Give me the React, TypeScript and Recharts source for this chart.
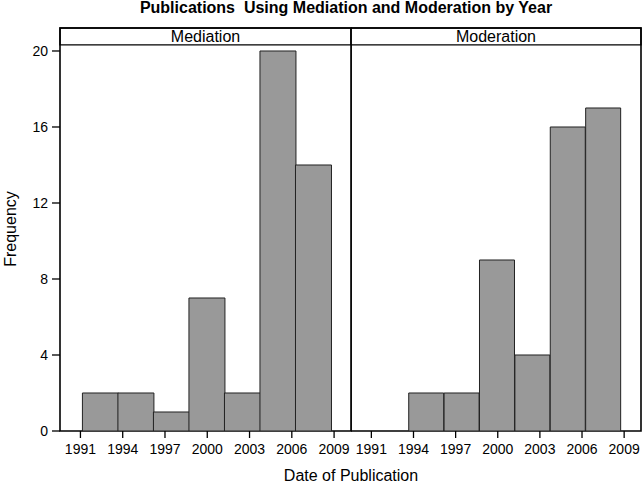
import { BarChart, Bar, XAxis, YAxis, ReferenceArea } from 'recharts';

// histogram bins (centres, in years) and counts per panel
const binCenters = [1992.4, 1994.92, 1997.44, 1999.96, 2002.48, 2005.0, 2007.52];
const mediationCounts = [2, 2, 1, 7, 2, 20, 14];
const moderationCounts = [0, 2, 2, 9, 4, 16, 17];
const yearTicks = [1991, 1994, 1997, 2000, 2003, 2006, 2009];
const freqTicks = [0, 4, 8, 12, 16, 20];

const FONT = "'Liberation Sans', Arial, Helvetica, sans-serif";
const X_DOMAIN: [number, number] = [1989.55, 2010.2];
const Y_MAX = 21.21; // top of the strip header
const STRIP_BOTTOM = 20.32; // top of plotting region
const PLOT_TOP = 28;
const CHART_H = 485;
const X_AXIS_H = 30;
const BOTTOM_GAP = 24;

function Panel({
  title,
  counts,
  width,
  plotWidth,
  showY,
}: {
  title: string;
  counts: number[];
  width: number;
  plotWidth: number;
  showY: boolean;
}) {
  const data = binCenters.map((c, i) => ({ center: c, count: counts[i] }));
  const yW = showY ? 60 : 0;

  // bars on a numeric axis take the spacing between bin centres as their width
  return (
    <BarChart
      width={width}
      height={CHART_H}
      data={data}
      margin={{ top: PLOT_TOP, right: width - yW - plotWidth, bottom: BOTTOM_GAP, left: 0 }}
      barCategoryGap="0%"
      barGap={0}
      style={{ fontFamily: FONT }}
    >
      <XAxis
        type="number"
        dataKey="center"
        domain={X_DOMAIN}
        ticks={yearTicks}
        allowDataOverflow
        height={X_AXIS_H}
        axisLine={false}
        tickSize={7}
        tickMargin={6}
        tickLine={{ stroke: '#000', strokeWidth: 1.3 }}
        tick={{ fill: '#000', fontSize: 14, fontFamily: FONT }}
        interval={0}
      />
      <YAxis
        type="number"
        domain={[0, Y_MAX]}
        ticks={freqTicks}
        allowDataOverflow
        hide={!showY}
        width={yW}
        axisLine={false}
        tickSize={8}
        tickMargin={4}
        tickLine={{ stroke: '#000', strokeWidth: 1.3 }}
        tick={{ fill: '#000', fontSize: 14, fontFamily: FONT }}
        interval={0}
      />
      <Bar
        dataKey="count"
        fill="#999999"
        stroke="#222222"
        strokeWidth={1}
        isAnimationActive={false}
      />
      <ReferenceArea
        x1={X_DOMAIN[0]}
        x2={X_DOMAIN[1]}
        y1={STRIP_BOTTOM}
        y2={Y_MAX}
        fill="#ffffff"
        fillOpacity={1}
        stroke="#000"
        strokeWidth={1.4}
        ifOverflow="visible"
        label={{ value: title, position: 'center', fill: '#000', fontSize: 16, fontFamily: FONT }}
      />
      <ReferenceArea
        x1={X_DOMAIN[0]}
        x2={X_DOMAIN[1]}
        y1={0}
        y2={Y_MAX}
        fill="none"
        stroke="#000"
        strokeWidth={1.6}
        ifOverflow="visible"
      />
    </BarChart>
  );
}

export default function App() {
  return (
    <div
      style={{
        position: 'absolute',
        left: 0,
        top: 0,
        width: 644,
        height: 485,
        background: '#fff',
        fontFamily: FONT,
        color: '#000',
        overflow: 'hidden',
      }}
    >
      <div
        style={{
          position: 'absolute',
          top: 0,
          left: 346,
          transform: 'translateX(-50%)',
          whiteSpace: 'pre',
          fontWeight: 'bold',
          fontSize: 16,
          lineHeight: '16px',
        }}
      >
        {'Publications  Using Mediation and Moderation by Year'}
      </div>

      <div style={{ position: 'absolute', left: 0, top: 0 }}>
        <Panel title="Mediation" counts={mediationCounts} width={352} plotWidth={291} showY />
      </div>
      <div style={{ position: 'absolute', left: 351, top: 0 }}>
        <Panel title="Moderation" counts={moderationCounts} width={293} plotWidth={290} showY={false} />
      </div>

      <div
        style={{
          position: 'absolute',
          top: 468,
          left: 351,
          transform: 'translateX(-50%)',
          whiteSpace: 'nowrap',
          fontSize: 16,
          lineHeight: '16px',
        }}
      >
        Date of Publication
      </div>

      <div
        style={{
          position: 'absolute',
          top: 229,
          left: 11,
          transform: 'translate(-50%, -50%) rotate(-90deg)',
          whiteSpace: 'nowrap',
          fontSize: 16,
          lineHeight: '16px',
        }}
      >
        Frequency
      </div>
    </div>
  );
}
